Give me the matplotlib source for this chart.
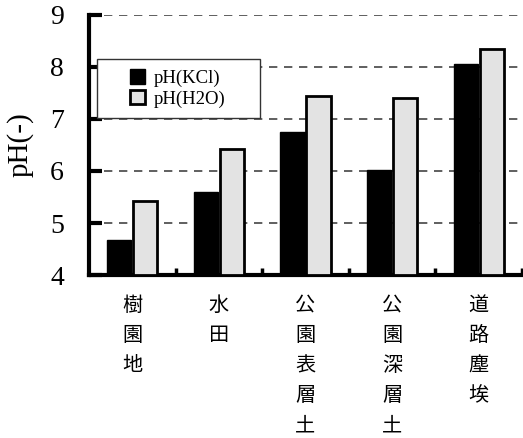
import numpy as np
import matplotlib.pyplot as plt
from matplotlib.patches import Rectangle

categories = ['樹園地', '水田', '公園表層土', '公園深層土', '道路塵埃']
ph_kcl = [4.67, 5.60, 6.74, 6.02, 8.05]
ph_h2o = [5.42, 6.43, 7.45, 7.40, 8.34]
y_ticks = [4, 5, 6, 7, 8, 9]

serif = ['Liberation Serif', 'DejaVu Serif']
cjk = ['Noto Sans CJK JP', 'DejaVu Sans']

fig = plt.figure(figsize=(5.23, 4.38), dpi=100)
ax = fig.add_axes([0.170, 0.372, 0.828, 0.594])

x = np.arange(len(categories))
w = 0.28
ax.bar(x - 0.15, np.array(ph_kcl) - 4, w, bottom=4, color='black',
       edgecolor='black', linewidth=1, zorder=3, label='pH(KCl)')
ax.bar(x + 0.15, np.array(ph_h2o) - 4, w, bottom=4, color='#e3e3e3',
       edgecolor='black', linewidth=2, zorder=3, label='pH(H2O)')

ax.set_xlim(-0.5, len(categories) - 0.5)
ax.set_ylim(4, 9)

# dashed guides at each integer
for v in y_ticks[1:]:
    ax.axhline(v, color='#444444', linewidth=1.2, linestyle=(0, (5, 4)), zorder=1)

ax.spines['top'].set_visible(False)
ax.spines['right'].set_visible(False)
ax.spines['left'].set_linewidth(3)
ax.spines['bottom'].set_linewidth(3)

ax.set_yticks(y_ticks)
ax.set_yticklabels([str(t) for t in y_ticks], family=serif, fontsize=20)
ax.tick_params(axis='y', direction='in', length=9, width=3, pad=18)

# vertical stacked category names, small inward marks between groups
ax.set_xticks(x)
ax.set_xticklabels(['\n'.join(c) for c in categories], family=cjk,
                   fontsize=14.5, linespacing=1.58, va='top')
ax.tick_params(axis='x', which='major', length=0, pad=14)
ax.set_xticks(x + 0.5, minor=True)
ax.tick_params(axis='x', which='minor', direction='in', length=5, width=2.5)

ax.set_ylabel('pH(-)', family=serif, fontsize=21, labelpad=12)

# legend box
ax.add_patch(Rectangle((0.018, 0.604), 0.377, 0.227, transform=ax.transAxes,
                       facecolor='white', edgecolor='#333333', linewidth=1,
                       zorder=5))
leg = ax.legend(loc='center', bbox_to_anchor=(0.205, 0.717), frameon=False,
                prop={'family': serif, 'size': 13.5}, handlelength=0.8,
                handleheight=0.8, handletextpad=0.5, labelspacing=0.15)
leg.set_zorder(6)

fig.savefig('out.png', dpi=100)
